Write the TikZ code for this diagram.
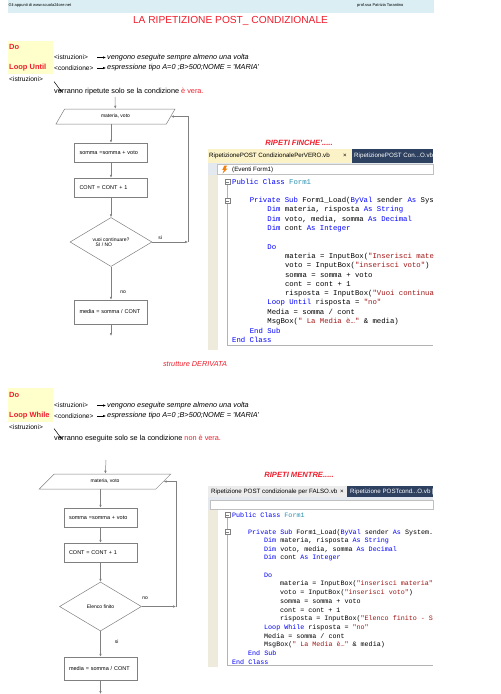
\documentclass[tikz,border=0pt]{standalone}
\usepackage{fontspec}
\setmainfont{Liberation Sans}
\setmonofont{Liberation Mono}
\usetikzlibrary{arrows.meta,positioning,shapes.geometric,calc}
\definecolor{flowLine}{HTML}{808080}
\definecolor{headFill}{HTML}{DAEEF3}
\definecolor{keyFill}{HTML}{FFFFCC}
\definecolor{titleRed}{HTML}{F01E2C}
\definecolor{vbKey}{HTML}{0000FF}
\definecolor{vbType}{HTML}{2B91AF}
\definecolor{vbString}{HTML}{A31515}
\definecolor{gutterFill}{HTML}{EEEBDC}
\definecolor{tabDark}{HTML}{2F4160}
\definecolor{tabVero}{HTML}{FCF2C8}
\definecolor{tabFalso}{HTML}{ECECEC}
\definecolor{barFill}{HTML}{E4E8EF}
\newcommand{\fsz}[1]{\fontsize{#1}{#1}\selectfont}
\newcommand{\vbkw}[1]{\textcolor{vbKey}{#1}}
\newcommand{\vbty}[1]{\textcolor{vbType}{#1}}
\newcommand{\vbstr}[1]{\textcolor{vbString}{#1}}

\begin{document}
\begin{tikzpicture}[
        x=1pt, y=-1pt,
        flowbox/.style={
            draw=flowLine,
            line width=0.5pt,
            minimum height=19,
            text width=63,
            inner xsep=5,
            inner ysep=0,
            align=left,
            font=\fsz{5.5}
        },
        iobox/.style={
            trapezium,
            draw=flowLine,
            line width=0.5pt,
            trapezium left angle=60,
            trapezium right angle=120,
            minimum width=83,
            minimum height=15,
            inner sep=0,
            font=\fsz{5}
        },
        choice/.style={
            diamond,
            draw=flowLine,
            line width=0.5pt,
            minimum width=82,
            minimum height=49,
            inner sep=0,
            align=left,
            font=\fsz{5}
        },
        arrow/.style={
            -{Latex[length=3pt,width=2.5pt]},
            line width=0.5pt,
            draw=flowLine
        },
        lbl/.style={font=\fsz{5}, inner sep=0},
        note/.style={font=\fsz{7.3}, anchor=west, inner sep=0},
        tag/.style={font=\fsz{6.6}, anchor=west, inner sep=0},
        slanted/.style={font=\fsz{7.3}\itshape, anchor=west, inner sep=0},
        keyword/.style={font=\fsz{7.5}\bfseries, text=titleRed, anchor=west, inner sep=0},
        banner/.style={font=\fsz{7.6}\bfseries\itshape, text=titleRed, inner sep=0},
        tabtxt/.style={font=\fsz{6.2}, anchor=west, inner sep=0},
        codeA/.style={font=\fsz{7.3}\ttfamily, anchor=west, inner sep=0},
        codeB/.style={font=\fsz{6.7}\ttfamily, anchor=west, inner sep=0}
    ]
    \useasboundingbox (0,0) rectangle (501,694);
    \fill[white] (0,0) rectangle (501,694);

    % header
    \fill[headFill] (8,0) rectangle (434,13);
    \node[font=\fsz{4}, anchor=west, inner sep=0] (site) at (8.5,5.5) {Gli appunti di www.scuola24ore.net};
    \node[font=\fsz{4}, anchor=west, inner sep=0] (prof) at (357,5.5) {prof.ssa Patrizia Tarantino};
    \node[font=\fsz{10.2}, text=titleRed, inner sep=0] (title) at (230.5,20.5) {LA RIPETIZIONE POST\_ CONDIZIONALE};

    % sintassi Loop Until
    \fill[keyFill] (8,41) rectangle (53,74);
    \node[keyword] (doA) at (9,46.5) {Do};
    \node[keyword] (untilA) at (9,67.5) {Loop Until};
    \node[tag] (istrA) at (54,57.5) {<istruzioni>};
    \node[slanted] (esegA) at (107,57.5) {vengono eseguite sempre almeno una volta};
    \node[tag] (condA) at (54,68) {<condizione>};
    \node[slanted] (esprA) at (107,68) {espressione tipo A=0 ;B>500;NOME = \textquotesingle MARIA\textquotesingle};
    \node[tag] (istrA2) at (9,79) {<istruzioni>};
    \node[note] (verrA) at (54,92) {verranno ripetute solo se la condizione \textcolor{titleRed}{è vera.}};
    \draw[arrow, draw=black] ([xshift=-10]esegA.west) -- ([xshift=-1]esegA.west);
    \draw[arrow, draw=black] ([xshift=-10]esprA.west) -- ([xshift=-1]esprA.west);
    \coordinate (diagA) at (54,81.5);
    \draw[arrow, draw=black] (diagA) -- ([xshift=8,yshift=-4]verrA.north west);

    % diagramma Loop Until
    \coordinate (topA) at (115,97);
    \node[iobox] (inA) at (115.5,116.5) {materia, voto};
    \node[flowbox] (sumA) at (111,152.5) {somma =somma + voto};
    \node[flowbox] (cntA) at (111,187.5) {CONT = CONT + 1};
    \node[choice] (askA) at (111,242) {vuoi continuare?\\\hspace*{3pt}SI / NO};
    \node[flowbox, minimum height=24] (avgA) at (111,312) {media = somma / CONT};
    \coordinate (backA) at (188,242);
    \coordinate (endA) at (111,336);

    \draw[arrow] (topA) -- (inA);
    \draw[arrow] (sumA.north |- inA.south) -- (sumA);
    \draw[arrow] (sumA) -- (cntA);
    \draw[arrow] (cntA) -- (askA);
    \draw[arrow] (askA) -- node[lbl, right=9pt, pos=0.76] {no} (avgA);
    \draw[arrow] (avgA) -- (endA);
    \draw[arrow] (askA.east) -- node[lbl, above=2pt, pos=0.22] {si} (backA);
    \draw[arrow] (backA) |- (inA.east);

    % codice Loop Until
    \node[banner] (finche) at (299,143) {RIPETI FINCHE\textquotesingle.....};
    \fill[tabVero] (208,149) rectangle (352,163);
    \fill[tabDark] (352,149) rectangle (433,163);
    \node[tabtxt] (tabVeroA) at (209,156) {RipetizionePOST CondizionalePerVERO.vb};
    \node[tabtxt] (closeA) at (343,156) {×};
    \begin{scope}
        \clip (352,149) rectangle (433,163);
        \node[tabtxt, text=white] (tabVeroB) at (354,156) {RipetizionePOST Con...O.vb};
    \end{scope}
    \fill[barFill] (208,163) rectangle (433,175);
    \draw[flowLine!50, fill=white] (217.5,164.5) rectangle (433,174);
    \fill[orange!80!brown] (224.5,165.5) -- (227,165.5) -- (225.5,168.5) -- (227.5,168.5) -- (222.5,173.5) -- (224,169.8) -- (222.3,169.8) -- cycle;
    \node[tabtxt] (eventi) at (232,169.5) {(Eventi Form1)};
    \fill[gutterFill] (208,175) rectangle (218,350);
    \fill[white] (218,175) rectangle (433,345);
    \draw[flowLine!60, line width=0.4pt] (227.5,182) -- (227.5,345) -- (433,345);
    \foreach \y in {182,201} {
        \draw[flowLine, fill=white, line width=0.4pt] (225,\y-2.5) rectangle (230,\y+2.5);
        \draw[flowLine, line width=0.4pt] (226,\y) -- (229,\y);
    }
    \foreach \n/\ind/\txt in {
        0/0/{\vbkw{Public Class} \vbty{Form1}},
        2/4/{\vbkw{Private Sub} Form1\_Load(\vbkw{ByVal} sender \vbkw{As} Sys},
        3/8/{\vbkw{Dim} materia, risposta \vbkw{As String}},
        4/8/{\vbkw{Dim} voto, media, somma \vbkw{As Decimal}},
        5/8/{\vbkw{Dim} cont \vbkw{As Integer}},
        7/8/{\vbkw{Do}},
        8/12/{materia = InputBox(\vbstr{"Inserisci mate}},
        9/12/{voto = InputBox(\vbstr{"inserisci voto"})},
        10/12/{somma = somma + voto},
        11/12/{cont = cont + 1},
        12/12/{risposta = InputBox(\vbstr{"Vuoi continua}},
        13/8/{\vbkw{Loop Until} risposta = \vbstr{"no"}},
        14/8/{Media = somma / cont},
        15/8/{MsgBox(\vbstr{" La Media è…"} \& media)},
        16/4/{\vbkw{End Sub}},
        17/0/{\vbkw{End Class}}}
        \node[codeA] (vero\n) at (232+4.4*\ind, 182+9.29*\n) {\txt};

    \node[font=\fsz{7.3}\itshape, text=titleRed, inner sep=0] (derivata) at (195,364) {strutture DERIVATA};

    % sintassi Loop While
    \fill[keyFill] (8,388) rectangle (53,422);
    \node[keyword] (doB) at (9,394.5) {Do};
    \node[keyword] (whileB) at (9,415.5) {Loop While};
    \node[tag] (istrB) at (54,405.5) {<istruzioni>};
    \node[slanted] (esegB) at (107,405.5) {vengono eseguite sempre almeno una volta};
    \node[tag] (condB) at (54,416) {<condizione>};
    \node[slanted] (esprB) at (107,416) {espressione tipo A=0 ;B>500;NOME = \textquotesingle MARIA\textquotesingle};
    \node[tag] (istrB2) at (9,427) {<istruzioni>};
    \node[note] (verrB) at (54,439) {verranno eseguite solo se la condizione \textcolor{titleRed}{non è vera.}};
    \draw[arrow, draw=black] ([xshift=-10]esegB.west) -- ([xshift=-1]esegB.west);
    \draw[arrow, draw=black] ([xshift=-10]esprB.west) -- ([xshift=-1]esprB.west);
    \coordinate (diagB) at (54,428.5);
    \draw[arrow, draw=black] (diagB) -- ([xshift=8,yshift=-4]verrB.north west);

    % diagramma Loop While
    \coordinate (topB) at (106,460);
    \node[iobox, trapezium left angle=45, trapezium right angle=135, minimum width=82] (inB) at (105,481.5) {materia, voto};
    \node[flowbox] (sumB) at (100.5,517.5) {somma =somma + voto};
    \node[flowbox] (cntB) at (100.5,552.5) {CONT = CONT + 1};
    \node[choice] (askB) at (100.5,606.5) {Elenco finito};
    \node[flowbox, minimum height=23] (avgB) at (100.5,668.5) {media = somma / CONT};
    \coordinate (backB) at (176,606.5);
    \coordinate (endB) at (100.5,694);

    \draw[arrow] (topB) -- (inB);
    \draw[arrow] (sumB.north |- inB.south) -- (sumB);
    \draw[arrow] (sumB) -- (cntB);
    \draw[arrow] (cntB) -- (askB);
    \draw[arrow] (askB) -- node[lbl, right=14pt, pos=0.42] {si} (avgB);
    \draw[arrow] (avgB) -- (endB);
    \draw[arrow] (askB.east) -- node[lbl, above=7pt, pos=0.1] {no} (backB);
    \draw[arrow] (backB) |- (inB.east);

    % codice Loop While
    \node[banner] (mentre) at (299,475) {RIPETI MENTRE.....};
    \fill[tabFalso] (208,486) rectangle (347,497);
    \fill[tabDark] (347,486) rectangle (433,497);
    \node[tabtxt] (tabFalsoA) at (211,491.5) {Ripetizione POST condizionale per FALSO.vb};
    \node[tabtxt] (closeB) at (340,491.5) {×};
    \begin{scope}
        \clip (347,486) rectangle (433,497);
        \node[tabtxt, text=white] (tabFalsoB) at (350,491.5) {Ripetizione POSTcond...O.vb [};
    \end{scope}
    \fill[barFill] (208,497) rectangle (433,510);
    \draw[flowLine!50, fill=white] (210,500) rectangle (433,509);
    \fill[gutterFill] (208,510) rectangle (218,667);
    \fill[white] (218,510) rectangle (433,665);
    \draw[flowLine!60, line width=0.4pt] (227.5,515) -- (227.5,665) -- (433,665);
    \foreach \y in {515,532} {
        \draw[flowLine, fill=white, line width=0.4pt] (225,\y-2.5) rectangle (230,\y+2.5);
        \draw[flowLine, line width=0.4pt] (226,\y) -- (229,\y);
    }
    \foreach \n/\ind/\txt in {
        0/0/{\vbkw{Public Class} \vbty{Form1}},
        2/4/{\vbkw{Private Sub} Form1\_Load(\vbkw{ByVal} sender \vbkw{As} System.},
        3/8/{\vbkw{Dim} materia, risposta \vbkw{As String}},
        4/8/{\vbkw{Dim} voto, media, somma \vbkw{As Decimal}},
        5/8/{\vbkw{Dim} cont \vbkw{As Integer}},
        7/8/{\vbkw{Do}},
        8/12/{materia = InputBox(\vbstr{"inserisci materia"}},
        9/12/{voto = InputBox(\vbstr{"inserisci voto"})},
        10/12/{somma = somma + voto},
        11/12/{cont = cont + 1},
        12/12/{risposta = InputBox(\vbstr{"Elenco finito - S}},
        13/8/{\vbkw{Loop While} risposta = \vbstr{"no"}},
        14/8/{Media = somma / cont},
        15/8/{MsgBox(\vbstr{" La Media è…"} \& media)},
        16/4/{\vbkw{End Sub}},
        17/0/{\vbkw{End Class}}}
        \node[codeB] (falso\n) at (232+4.0*\ind, 515+8.65*\n) {\txt};
\end{tikzpicture}
\end{document}
